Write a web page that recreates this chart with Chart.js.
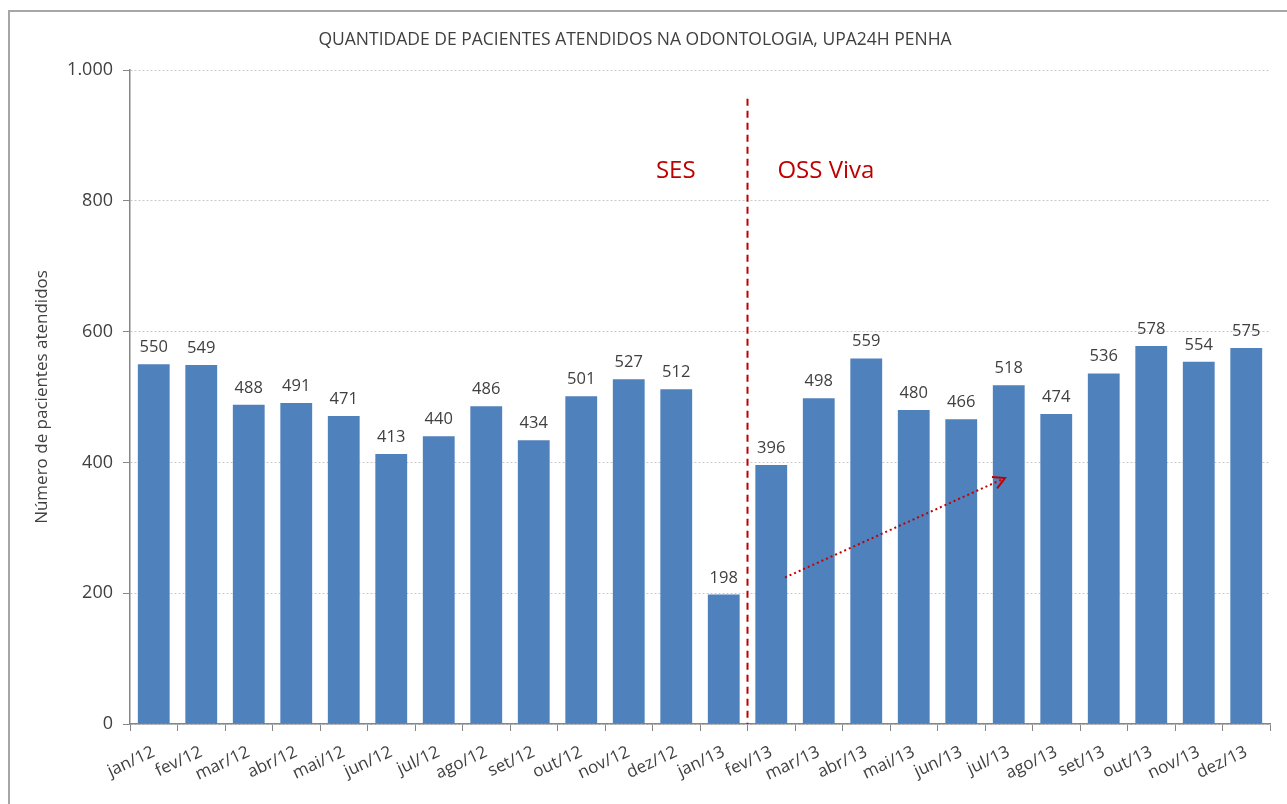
<!DOCTYPE html>
<html>
<head>
<meta charset="utf-8">
<script src="https://cdn.jsdelivr.net/npm/chart.js@4/dist/chart.umd.min.js"></script>
<style>
  body { margin: 0; background: #fff; overflow: hidden; }
  #frame { position: absolute; left: 8px; top: 10px; width: 1400px; height: 900px; border: 2px solid #a6a6a6; pointer-events: none; }
  canvas { position: absolute; left: 0; top: 0; }
</style>
</head>
<body>
<canvas id="grafico" width="1287" height="804"></canvas>
<div id="frame"></div>
<script>
const meses = ['jan/12', 'fev/12', 'mar/12', 'abr/12', 'mai/12', 'jun/12', 'jul/12', 'ago/12', 'set/12', 'out/12', 'nov/12', 'dez/12',
  'jan/13', 'fev/13', 'mar/13', 'abr/13', 'mai/13', 'jun/13', 'jul/13', 'ago/13', 'set/13', 'out/13', 'nov/13', 'dez/13'];
const pacientes = [550, 549, 488, 491, 471, 413, 440, 486, 434, 501, 527, 512,
  198, 396, 498, 559, 480, 466, 518, 474, 536, 578, 554, 575];

// anotacoes em unidades do grafico (indice da categoria, valor)
const divisao = { x: 12.5, topo: 956 };
const rotulos = [
  { texto: 'SES', x: 10.99, y: 846 },
  { texto: 'OSS Viva', x: 14.15, y: 846 }
];
const seta = { de: [13.29, 224], ate: [17.92, 376] };

const texto = '#404040';
const vermelho = '#C00000';
const fonte = '"Open Sans", sans-serif';

function milhar(v) {
  return String(v).replace(/\B(?=(\d{3})+(?!\d))/g, '.');
}

const anotacoes = {
  id: 'anotacoes',
  afterDatasetsDraw(chart) {
    const { ctx, scales: { x, y } } = chart;
    ctx.save();

    // valores sobre as barras
    ctx.font = '16.5px ' + fonte;
    ctx.fillStyle = texto;
    ctx.textAlign = 'center';
    ctx.textBaseline = 'alphabetic';
    chart.getDatasetMeta(0).data.forEach((bar, i) => {
      ctx.fillText(pacientes[i], bar.x, bar.y - 12);
    });

    // linha tracejada SES / OSS
    const xd = x.getPixelForValue(divisao.x);
    ctx.strokeStyle = vermelho;
    ctx.lineWidth = 2;
    ctx.setLineDash([7, 5]);
    ctx.beginPath();
    ctx.moveTo(xd, y.getPixelForValue(divisao.topo));
    ctx.lineTo(xd, y.getPixelForValue(0));
    ctx.stroke();

    ctx.font = '24px ' + fonte;
    ctx.fillStyle = vermelho;
    ctx.textBaseline = 'middle';
    rotulos.forEach(r => ctx.fillText(r.texto, x.getPixelForValue(r.x), y.getPixelForValue(r.y)));

    // seta pontilhada
    const x0 = x.getPixelForValue(seta.de[0]), y0 = y.getPixelForValue(seta.de[1]);
    const x1 = x.getPixelForValue(seta.ate[0]), y1 = y.getPixelForValue(seta.ate[1]);
    ctx.setLineDash([2, 3]);
    ctx.lineWidth = 2;
    ctx.beginPath();
    ctx.moveTo(x0, y0);
    ctx.lineTo(x1, y1);
    ctx.stroke();
    const ang = Math.atan2(y1 - y0, x1 - x0);
    ctx.setLineDash([]);
    ctx.beginPath();
    ctx.moveTo(x1 - 13 * Math.cos(ang - 0.5), y1 - 13 * Math.sin(ang - 0.5));
    ctx.lineTo(x1, y1);
    ctx.lineTo(x1 - 13 * Math.cos(ang + 0.5), y1 - 13 * Math.sin(ang + 0.5));
    ctx.stroke();
    ctx.restore();
  }
};

const ctx = document.getElementById('grafico').getContext('2d');

new Chart(ctx, {
  type: 'bar',
  data: {
    labels: meses,
    datasets: [{
      label: 'Pacientes',
      data: pacientes,
      backgroundColor: '#4F81BD',
      borderWidth: 0,
      barPercentage: 0.67,
      categoryPercentage: 1
    }]
  },
  options: {
    responsive: false,
    animation: false,
    layout: { padding: { top: 6, right: 17, left: 0, bottom: 0 } },
    plugins: {
      legend: { display: false },
      tooltip: { enabled: false },
      title: {
        display: true,
        text: 'QUANTIDADE DE PACIENTES ATENDIDOS NA ODONTOLOGIA, UPA24H PENHA',
        color: texto,
        font: { family: fonte, size: 17.5, weight: 'normal' },
        padding: { top: 24, bottom: 19 }
      }
    },
    scales: {
      x: {
        grid: { drawOnChartArea: false, tickLength: 7, tickColor: '#868686' },
        border: { color: '#868686', width: 1.5 },
        ticks: { color: texto, font: { family: fonte, size: 17 }, autoSkip: false, maxRotation: 25, minRotation: 25, padding: 11 },
        afterFit(scale) { scale.height = 80; }
      },
      y: {
        min: 0,
        max: 1000,
        ticks: { stepSize: 200, color: texto, font: { family: fonte, size: 18 }, padding: 10, callback: v => milhar(v) },
        grid: { color: '#c8c8c8', tickColor: '#868686', tickLength: 7, tickBorderDash: [1, 0] },
        border: { color: '#868686', width: 1.5, dash: [2, 2] },
        title: { display: true, text: 'Número de pacientes atendidos', color: texto, font: { family: fonte, size: 17 }, padding: { top: 32, bottom: 0 } },
        afterFit(scale) { scale.width = 130; }
      }
    }
  },
  plugins: [anotacoes]
});
</script>
</body>
</html>
